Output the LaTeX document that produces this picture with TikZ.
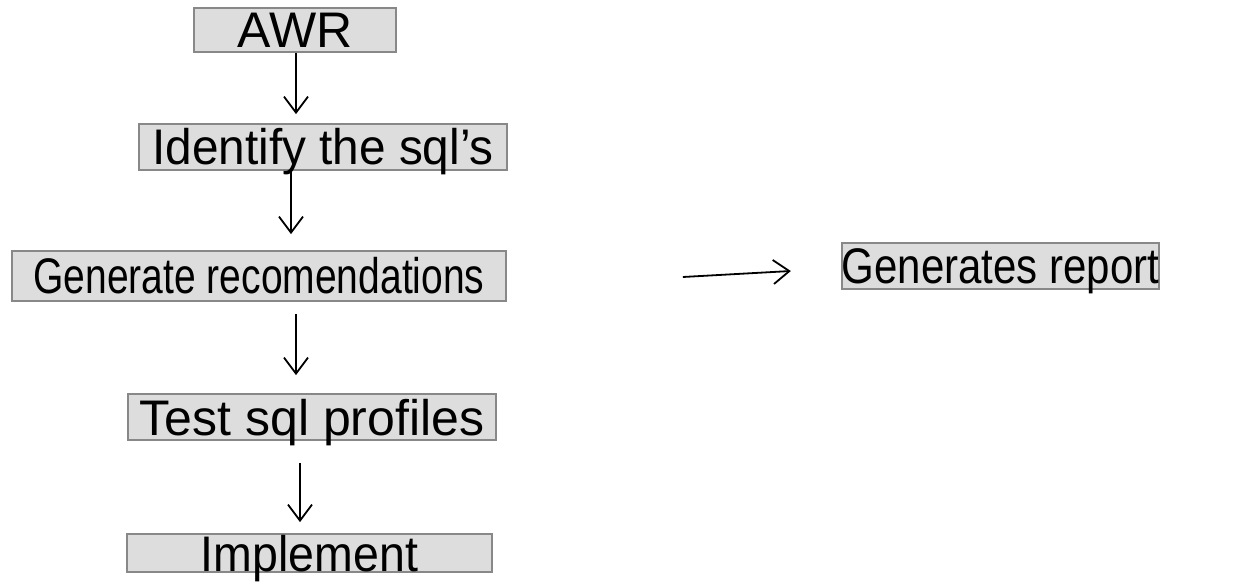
\documentclass[tikz,border=0pt]{standalone}
\usepackage{fontspec}
\setmainfont{Liberation Sans}
\usetikzlibrary{arrows.meta,calc}
\definecolor{boxfill}{HTML}{DDDDDD}
\definecolor{boxline}{HTML}{888888}
\newcommand{\squeeze}[2]{\scalebox{#1}[1]{#2}}
\tikzset{
  stepbox/.style={draw=boxline, fill=boxfill, line width=1.8pt, inner sep=0pt,
    font=\fontsize{50}{54}\selectfont, text height=36pt, text depth=0pt,
    anchor=center},
  flow/.style={line width=1.8pt, -{Straight Barb[length=16pt,width=24pt,line width=1.8pt]}}
}
\begin{document}
\begin{tikzpicture}[x=1pt,y=-1pt]
  \useasboundingbox (0,0) rectangle (1253,585);
  % process steps
  \node[stepbox, minimum width=202pt, minimum height=44pt] (awr) at (295,30) {AWR};
  \node[stepbox, minimum width=368pt, minimum height=46pt] (ident) at (323,147) {\squeeze{0.955}{Identify the sql’s}};
  \node[stepbox, minimum width=494pt, minimum height=50pt] (gen) at (259,276) {\squeeze{0.78}{Generate recomendations}};
  \node[stepbox, minimum width=368pt, minimum height=46pt] (test) at (312,417) {Test sql profiles};
  \node[stepbox, minimum width=365pt, minimum height=38pt] (impl) at (309.5,553) {\squeeze{0.93}{Implement}};
  \node[stepbox, minimum width=317pt, minimum height=46pt] (report) at (1000.5,266) {\squeeze{0.84}{Generates report}};
  % connectors
  \draw[flow] ($(awr.south)+(1,0)$) -- ($(ident.north)+(-27,-9)$);
  \draw[flow] ($(ident.south)+(-32,0)$) -- ($(gen.north)+(32,-16)$);
  \draw[flow] ($(gen.south)+(37,12)$) -- ($(test.north)+(-16,-18)$);
  \draw[flow] ($(test.south)+(-12,22)$) -- ($(impl.north)+(-9.5,-11)$);
  \draw[flow] ($(gen.east)+(176,1)$) -- ($(report.west)+(-50,5)$);
\end{tikzpicture}
\end{document}
